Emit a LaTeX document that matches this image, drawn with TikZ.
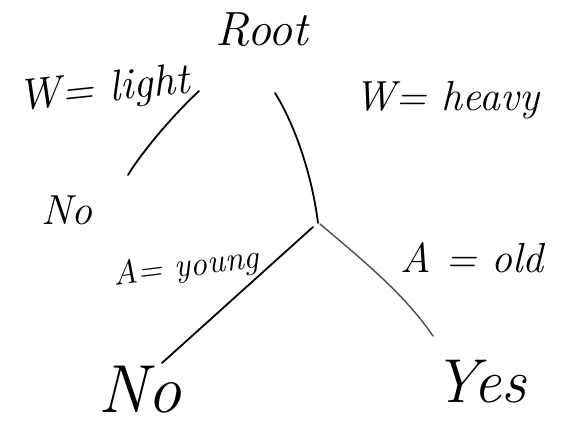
\documentclass[tikz,border=0pt]{standalone}
\usepackage{fontspec}
\newcommand{\fsz}[1]{\fontsize{#1}{#1}\selectfont\itshape}
\begin{document}
\begin{tikzpicture}[x=1pt,y=-1pt,
  lbl/.style={inner sep=0pt},
  branch/.style={line width=1.8pt,line cap=round},
  faint/.style={line width=1.4pt,line cap=round,black!70}]
\useasboundingbox (0,0) rectangle (573,435);
\node[lbl,font=\fsz{48}] (root) at (262,30) {Root};
\node[lbl,font=\fsz{44},rotate=6] (wl) at (104,91) {W= light};
\node[lbl,font=\fsz{42}] (wh) at (447,100) {W= heavy};
\node[lbl,font=\fsz{42}] (no1) at (67,210) {No};
\node[lbl,font=\fsz{34},rotate=7] (ay) at (186,268) {A= young};
\node[lbl,font=\fsz{42}] (ao) at (472,258) {A = old};
\node[lbl,font=\fsz{68}] (no2) at (140,390) {No};
\node[lbl,font=\fsz{62}] (yes) at (480,382) {Yes};
\coordinate (a1) at (199,91);
\coordinate (a2) at (128,175);
\coordinate (b1) at (275,93);
\coordinate (b2) at (318,223);
\coordinate (c1) at (313,227);
\coordinate (c2) at (162,363);
\coordinate (d1) at (320,224);
\coordinate (d2) at (433,336);
\draw[branch] (a1) .. controls (170,118) and (140,155) .. (a2);
\draw[branch] (b1) .. controls (295,125) and (312,175) .. (b2);
\draw[branch] (c1) -- (c2);
\draw[faint] (d1) .. controls (365,262) and (405,295) .. (d2);
\end{tikzpicture}
\end{document}
